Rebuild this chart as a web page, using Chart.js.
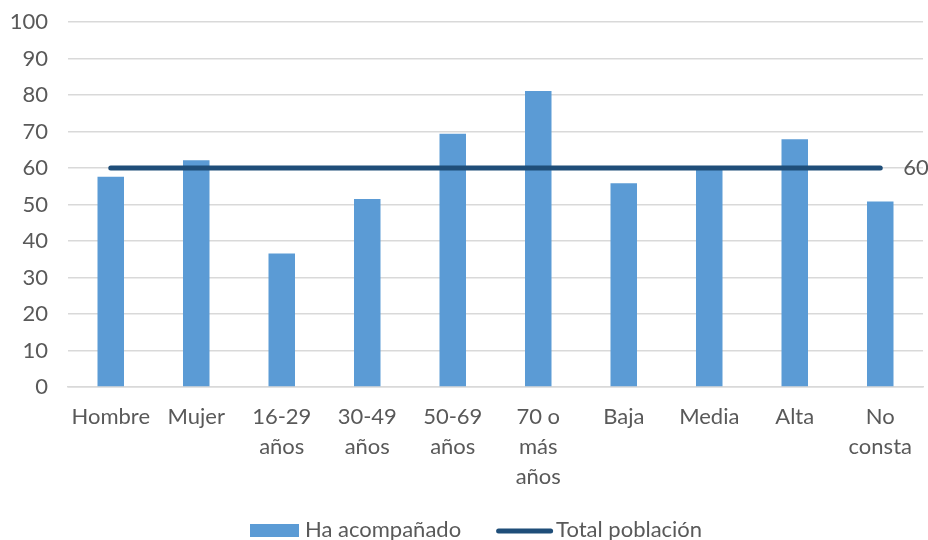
<!DOCTYPE html>
<html>
<head>
<meta charset="utf-8">
<script src="https://cdn.jsdelivr.net/npm/chart.js@4/dist/chart.umd.min.js"></script>
<style>
  html, body { margin: 0; padding: 0; background: #ffffff; }
  #wrap { width: 928px; height: 540px; }
</style>
</head>
<body>
<div id="wrap"><canvas id="c" width="928" height="540"></canvas></div>
<script>
// Categories (multi-line labels as arrays)
const categories = [
  'Hombre', 'Mujer', ['16-29', 'años'], ['30-49', 'años'], ['50-69', 'años'],
  ['70 o', 'más', 'años'], 'Baja', 'Media', 'Alta', ['No', 'consta']
];
// Share who have accompanied someone (%)
const haAcompanado = [57.6, 62.1, 36.6, 51.5, 69.4, 81.1, 55.8, 59.6, 67.9, 50.8];
// Whole-population reference value (%)
const totalPoblacion = [60, 60, 60, 60, 60, 60, 60, 60, 60, 60];
// Y-axis ticks
const yTicks = [0, 10, 20, 30, 40, 50, 60, 70, 80, 90, 100];

const FONT = 'Lato, "Open Sans", sans-serif';
const FS = 22;
const TEXT = '#595959';
const BAR = '#5B9BD5';
const LINE = '#1F4E79';

// Value label at the right end of the reference line, plus bottom legend
const extras = {
  id: 'extras',
  afterDatasetsDraw(chart) {
    const ctx = chart.ctx;
    const meta = chart.getDatasetMeta(1);
    const last = meta.data[meta.data.length - 1];
    ctx.save();
    ctx.font = FS + 'px ' + FONT;
    ctx.fillStyle = TEXT;
    ctx.textBaseline = 'middle';
    ctx.textAlign = 'left';
    ctx.fillText(String(totalPoblacion[totalPoblacion.length - 1]), last.x + 23, last.y);

    // Legend
    const cy = 530;
    let x = 250;
    ctx.fillStyle = BAR;
    ctx.fillRect(x, cy - 6, 49, 13);
    x += 55;
    ctx.fillStyle = TEXT;
    ctx.fillText('Ha acompañado', x, cy);
    x += ctx.measureText('Ha acompañado').width + 35;
    ctx.strokeStyle = LINE;
    ctx.lineWidth = 5;
    ctx.lineCap = 'round';
    ctx.beginPath();
    ctx.moveTo(x + 2.5, cy + 1);
    ctx.lineTo(x + 54.5, cy + 1);
    ctx.stroke();
    x += 60;
    ctx.fillStyle = TEXT;
    ctx.fillText('Total población', x, cy);
    ctx.restore();
  }
};

new Chart(document.getElementById('c'), {
  data: {
    labels: categories,
    datasets: [
      {
        type: 'bar',
        label: 'Ha acompañado',
        data: haAcompanado,
        backgroundColor: BAR,
        borderWidth: 0,
        barPercentage: 0.31,
        categoryPercentage: 1.0,
        order: 2
      },
      {
        type: 'line',
        label: 'Total población',
        data: totalPoblacion,
        borderColor: LINE,
        backgroundColor: LINE,
        borderWidth: 5,
        borderCapStyle: 'round',
        pointRadius: 0,
        pointHoverRadius: 0,
        fill: false,
        tension: 0,
        order: 1
      }
    ]
  },
  options: {
    responsive: false,
    animation: false,
    events: [],
    layout: { padding: { top: 22, right: 5, bottom: 40, left: 0 } },
    plugins: {
      legend: { display: false },
      tooltip: { enabled: false }
    },
    scales: {
      x: {
        offset: true,
        grid: { display: false, drawTicks: false },
        border: { display: true, color: '#d9d9d9', width: 1.5 },
        ticks: {
          color: TEXT,
          font: { family: FONT, size: FS, lineHeight: 30 / FS },
          padding: 15,
          maxRotation: 0,
          autoSkip: false
        },
        afterFit(scale) { scale.height = 113; }
      },
      y: {
        min: 0,
        max: 100,
        afterBuildTicks(scale) { scale.ticks = yTicks.map(v => ({ value: v })); },
        grid: { color: '#d9d9d9', lineWidth: 1.5, drawTicks: false },
        border: { display: false },
        ticks: {
          color: TEXT,
          font: { family: FONT, size: FS },
          padding: 20
        },
        afterFit(scale) {
          scale.width = 68;
          scale.paddingTop = 0;
          scale.paddingBottom = 0;
        }
      }
    }
  },
  plugins: [extras]
});
</script>
</body>
</html>
